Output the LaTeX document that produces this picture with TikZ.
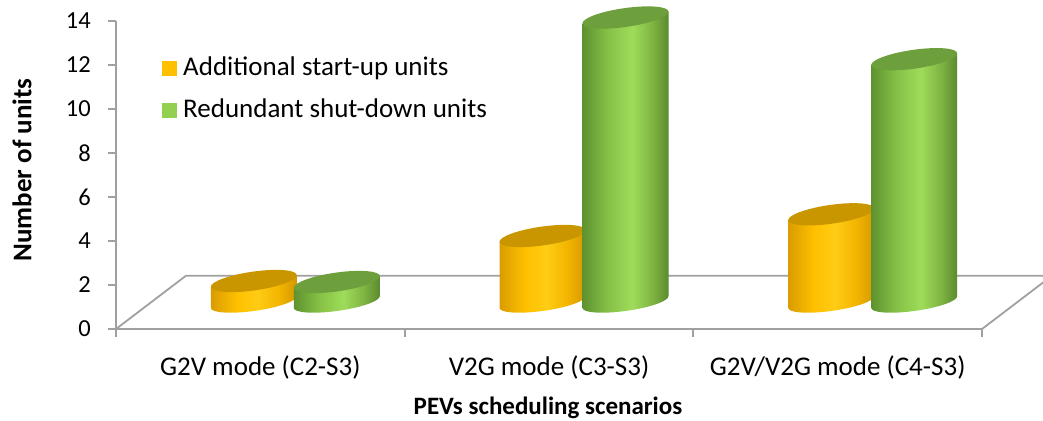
\documentclass[tikz,border=0pt]{standalone}
\usepackage{fontspec}
\setmainfont{Carlito}
\usepackage{xcolor}
\usepackage{tikz}
\definecolor{axisgray}{HTML}{A0A0A0}
\definecolor{gold}{HTML}{FFC000}
\definecolor{goldtop}{HTML}{C99600}
\definecolor{goldA}{HTML}{D99C00}
\definecolor{goldB}{HTML}{FFC000}
\definecolor{goldC}{HTML}{FFCC14}
\definecolor{goldD}{HTML}{F2B400}
\definecolor{goldE}{HTML}{D49800}
\definecolor{lime}{HTML}{92D050}
\definecolor{limetop}{HTML}{6E9F3D}
\definecolor{limeA}{HTML}{5E922F}
\definecolor{limeB}{HTML}{86C247}
\definecolor{limeC}{HTML}{9EDC5A}
\definecolor{limeD}{HTML}{7DB342}
\definecolor{limeE}{HTML}{5A8A2E}
\pgfdeclarehorizontalshading{goldside}{100bp}{color(0bp)=(goldA); color(25bp)=(goldA);
  color(40bp)=(goldB); color(52bp)=(goldC); color(65bp)=(goldD); color(75bp)=(goldE); color(100bp)=(goldE)}
\pgfdeclarehorizontalshading{limeside}{100bp}{color(0bp)=(limeA); color(25bp)=(limeA);
  color(40bp)=(limeB); color(54bp)=(limeC); color(66bp)=(limeD); color(75bp)=(limeE); color(100bp)=(limeE)}
\tikzset{
  axisline/.style={draw=axisgray, line width=1.8pt},
  ticklab/.style={font=\fontsize{24.5}{28}\selectfont, inner sep=0pt},
  lab/.style={font=\fontsize{27}{30}\selectfont, inner sep=0pt},
  ttl/.style={font=\fontsize{25}{28}\selectfont\bfseries, inner sep=0pt},
  legsq/.style={minimum size=15pt, inner sep=0pt}
}
% one cylinder: centre x, top y, side shading, top colour
\newcommand{\cylbar}[4]{%
  \begin{scope}[shift={(#1,0)}, yslant=0.135]
    \shade[shading=#3] (-43,118) -- (-43,#2) -- (43,#2) -- (43,118)
      arc[start angle=0, end angle=-180, x radius=43pt, y radius=9pt] -- cycle;
    \fill[#4] (0,#2) ellipse [x radius=43pt, y radius=9.5pt];
  \end{scope}}

\begin{document}
\begin{tikzpicture}[x=1pt,y=1pt]
  \useasboundingbox (0,0) rectangle (1043,420);
  \clip (0,0) rectangle (1043,420);

  % floor and axes
  \draw[axisline] (116,91) -- (982,91) -- (1052,144.3) -- (186,144.3) -- cycle;
  \draw[axisline] (116,91) -- (116,399);
  \foreach \v in {0,2,...,14} {
    \draw[axisline] (108,91+22*\v) -- (116,91+22*\v);
    \node[ticklab, anchor=east] (t\v) at (91,91+22*\v) {\v};
  }
  \foreach \i in {0,...,3}
    \draw[axisline] ({116+288.67*\i},91) -- ({116+288.67*\i},83);

  % bars
  \cylbar{253.8}{139}{goldside}{goldtop}
  \cylbar{336.8}{138}{limeside}{limetop}
  \cylbar{542.5}{184}{goldside}{goldtop}
  \cylbar{625.5}{402.5}{limeside}{limetop}
  \cylbar{831.2}{205.7}{goldside}{goldtop}
  \cylbar{914.2}{360.8}{limeside}{limetop}

  % legend
  \node[legsq, fill=gold] (k1) at (169.5,351.5) {};
  \node[lab, anchor=base west] (l1) at (183,344) {Additional start-up units};
  \node[legsq, fill=lime] (k2) at (169.5,309.5) {};
  \node[lab, anchor=base west] (l2) at (183,302) {Redundant shut-down units};

  % category labels and titles
  \node[lab] (c1) at (260.3,53) {G2V mode (C2-S3)};
  \node[lab] (c2) at (549,53) {V2G mode (C3-S3)};
  \node[lab] (c3) at (837.7,53) {G2V/V2G mode (C4-S3)};
  \node[ttl] (xt) at (548,12) {PEVs scheduling scenarios};
  \node[ttl, font=\fontsize{27}{30}\selectfont\bfseries, rotate=90] (yt) at (22,250) {Number of units};
\end{tikzpicture}
\end{document}
